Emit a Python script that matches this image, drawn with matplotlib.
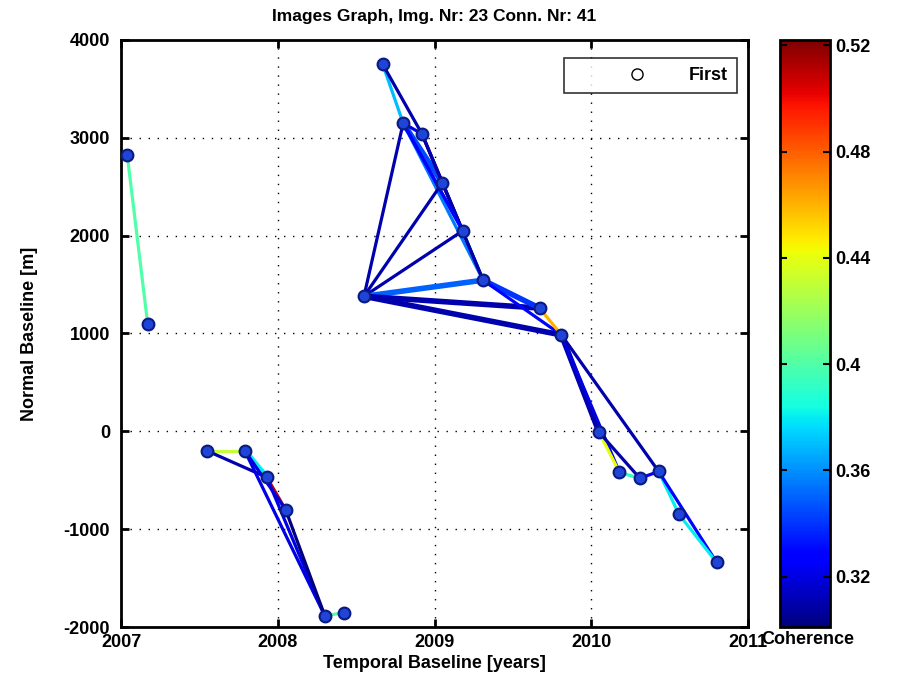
import numpy as np
import matplotlib
matplotlib.use("Agg")
import matplotlib.pyplot as plt
from matplotlib.collections import LineCollection
from matplotlib.colors import Normalize
from matplotlib.lines import Line2D

plt.rcParams['font.family'] = ['Liberation Sans', 'DejaVu Sans']
plt.rcParams['font.weight'] = 'bold'
plt.rcParams['axes.unicode_minus'] = False

# Acquisition dates (decimal years) and normal baselines (m)
img_time = [2007.04, 2007.17, 2007.55, 2007.79, 2007.93, 2008.05, 2008.30, 2008.42,
            2008.67, 2008.80, 2008.92, 2009.05, 2009.18, 2009.31, 2008.55, 2009.67,
            2009.81, 2010.05, 2010.18, 2010.31, 2010.43, 2010.56, 2010.80]
img_bperp = [2820, 1100, -200, -200, -470, -800, -1885, -1855,
             3750, 3150, 3040, 2540, 2050, 1545, 1380, 1260,
             985, -10, -420, -480, -410, -850, -1340]

# Interferometric pairs (1-based image indices) and their coherence
conn_master = [1, 3, 3, 4, 5, 5, 4, 6, 7,
               9, 9, 10, 10, 10, 11, 12, 13, 12, 15, 15, 15, 15, 15, 15, 14, 14, 16,
               10, 11, 11, 4, 10,
               17, 17, 17, 18, 18, 19, 20, 21, 21, 22]
conn_slave = [2, 4, 5, 5, 6, 7, 7, 7, 8,
              10, 11, 12, 14, 13, 12, 13, 14, 14, 10, 12, 13, 14, 16, 17, 16, 17, 17,
              11, 13, 14, 6, 13,
              18, 19, 21, 19, 20, 20, 21, 22, 23, 23]
conn_coh = [0.40, 0.43, 0.31, 0.38, 0.51, 0.32, 0.32, 0.30, 0.40,
            0.37, 0.31, 0.345, 0.355, 0.33, 0.50, 0.45, 0.40, 0.31, 0.31, 0.31, 0.31, 0.35, 0.31, 0.31, 0.34, 0.33, 0.46,
            0.32, 0.31, 0.31, 0.32, 0.33,
            0.31, 0.32, 0.31, 0.44, 0.31, 0.39, 0.33, 0.38, 0.33, 0.38]

coh_ticks = [0.32, 0.36, 0.40, 0.44, 0.48, 0.52]
coh_range = (0.301, 0.522)
x_ticks = [2007, 2008, 2009, 2010, 2011]
y_ticks = [-2000, -1000, 0, 1000, 2000, 3000, 4000]

# pairs drawn with a heavier stroke
heavy_pairs = {(4, 5), (10, 12), (15, 14), (15, 16), (15, 17), (17, 18), (14, 16)}

fig = plt.figure(figsize=(8.97, 6.86), dpi=100)
ax = fig.add_axes([0.1349, 0.086, 0.699, 0.8557])
cax = fig.add_axes([0.8696, 0.086, 0.0557, 0.8557])

t = np.array(img_time)
b = np.array(img_bperp)
segs = [[(t[m - 1], b[m - 1]), (t[s - 1], b[s - 1])] for m, s in zip(conn_master, conn_slave)]
widths = [4.0 if (m, s) in heavy_pairs else 2.3 for m, s in zip(conn_master, conn_slave)]

norm = Normalize(*coh_range)
lc = LineCollection(segs, cmap='jet', norm=norm, linewidths=widths, zorder=3)
lc.set_array(np.array(conn_coh))
ax.add_collection(lc)

ax.scatter(t, b, s=72, marker='o', facecolor='#1f45d8', edgecolor='#0a1a80',
           linewidth=1.5, zorder=4)

ax.set_xlim(2007, 2011)
ax.set_ylim(-2000, 4000)
ax.set_xticks(x_ticks)
ax.set_yticks(y_ticks)
ax.set_xticklabels([str(v) for v in x_ticks])
ax.grid(True, color='black', linestyle=(0, (1, 5.5)), linewidth=1.0)
ax.tick_params(direction='in', length=6, width=2, labelsize=13,
               top=True, right=True)
ax.tick_params(axis='x', pad=5)
ax.tick_params(axis='y', pad=8)
for sp in ax.spines.values():
    sp.set_linewidth(2)
ax.set_xlabel('Temporal Baseline [years]', fontsize=13, fontweight='bold', labelpad=3)
ax.set_ylabel('Normal Baseline [m]', fontsize=13, fontweight='bold', labelpad=18)
ax.set_title('Images Graph, Img. Nr: 23 Conn. Nr: 41', fontsize=12.5,
             fontweight='bold', pad=14)

handle = Line2D([], [], linestyle='none', marker='o', markersize=8,
                markerfacecolor='white', markeredgecolor='black', markeredgewidth=1)
leg = ax.legend([handle], ['First'], loc='upper right',
                bbox_to_anchor=(0.9825, 0.969), borderaxespad=0.0,
                fontsize=13, frameon=True, fancybox=False, borderpad=0.5,
                handlelength=7.0, handletextpad=-0.6)
leg.get_frame().set_edgecolor('black')
leg.get_frame().set_linewidth(1.2)

sm = plt.cm.ScalarMappable(cmap='jet', norm=norm)
cb = fig.colorbar(sm, cax=cax)
cb.set_ticks(coh_ticks)
cb.set_ticklabels(['0.32', '0.36', '0.4', '0.44', '0.48', '0.52'])
cax.tick_params(direction='in', length=5, width=1.5, labelsize=13, left=True, right=True)
cb.outline.set_linewidth(2)
fig.text(0.901, 1 - 640 / 686, 'Coherence', ha='center', va='center', fontsize=13,
         fontweight='bold')

fig.savefig('out.png', dpi=100)
